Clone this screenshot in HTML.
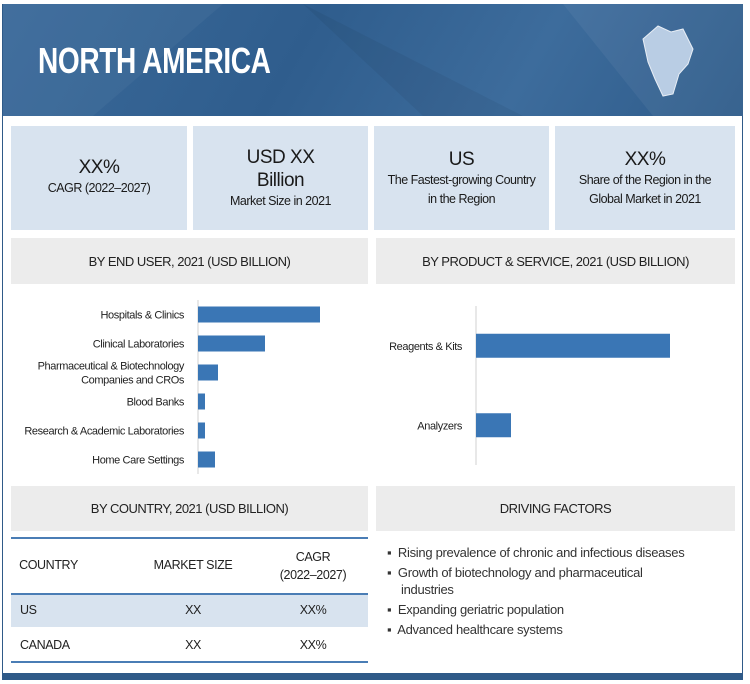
<!DOCTYPE html>
<html><head><meta charset="utf-8">
<style>
*{margin:0;padding:0;box-sizing:border-box}
body{width:750px;height:684px;background:#fff;font-family:"Liberation Sans",sans-serif;color:#222;position:relative;overflow:hidden}
.abs{position:absolute}
.frame{left:2px;top:4px;width:741px;height:676px;border:1.5px solid #2f5a88}
.header{left:3px;top:4px;width:740px;height:112px;background:linear-gradient(120deg,#3b6a9a 0%,#2f5d8d 40%,#3d6c9c 70%,#2e5b8a 100%)}
.title{left:38px;top:40px;font-size:36px;font-weight:bold;color:#fff;letter-spacing:-0.5px;transform:scaleX(0.78);transform-origin:left top;white-space:nowrap}
.stat{top:126px;height:104px;background:#d8e3ef;display:flex;flex-direction:column;justify-content:center;align-items:center;text-align:center;color:#1a1a1a;white-space:nowrap;letter-spacing:-0.5px}
.big{font-size:19px;line-height:23px}
.small{font-size:12.5px;line-height:19px}
.gh{background:#ececec;display:flex;align-items:center;justify-content:center;font-size:13px;color:#222;letter-spacing:-0.5px}
.th{font-size:12.5px;text-align:center;letter-spacing:-0.4px}
.bul{font-size:13px;color:#333;line-height:17px;letter-spacing:-0.3px}
</style></head><body>
<div class="abs frame"></div>
<div class="abs header">
<svg width="740" height="112" style="position:absolute;left:0;top:0">
<polygon points="0,0 220,0 90,112 0,112" fill="#fff" opacity="0.04"/>
<polygon points="300,0 520,112 420,112" fill="#000" opacity="0.05"/>
<polygon points="560,0 740,0 740,112 650,112" fill="#fff" opacity="0.05"/>
<path d="M640,35 L655,22 L668,28 L680,25 L690,45 L685,60 L676,70 L670,90 L660,92 L652,75 L645,58 Z" fill="#b9cde4" stroke="#e8eef6" stroke-width="1"/>
</svg></div>
<div class="abs title">NORTH AMERICA</div>

<div class="abs stat" style="left:11px;width:176px"><div class="big" style="margin-top:-2px">XX%</div><div class="small">CAGR (2022–2027)</div></div>
<div class="abs stat" style="left:193px;width:175px"><div class="big">USD XX</div><div class="big">Billion</div><div class="small">Market Size in 2021</div></div>
<div class="abs stat" style="left:374px;width:175px"><div class="big">US</div><div class="small">The Fastest-growing Country<br>in the Region</div></div>
<div class="abs stat" style="left:555px;width:180px"><div class="big">XX%</div><div class="small">Share of the Region in the<br>Global Market in 2021</div></div>

<div class="abs gh" style="left:11px;top:238px;width:357px;height:46px">BY END USER, 2021 (USD BILLION)</div>
<div class="abs gh" style="left:376px;top:238px;width:359px;height:46px">BY PRODUCT &amp; SERVICE, 2021 (USD BILLION)</div>

<svg class="abs" style="left:0;top:0" width="750" height="684" id="charts"></svg>

<div class="abs gh" style="left:11px;top:486px;width:357px;height:45px">BY COUNTRY, 2021 (USD BILLION)</div>
<div class="abs gh" style="left:376px;top:486px;width:359px;height:45px">DRIVING FACTORS</div>

<div class="abs" style="left:11px;top:537px;width:357px;height:2px;background:#4a7db5"></div>
<div class="abs th" style="left:11px;top:558px;width:75px">COUNTRY</div>
<div class="abs th" style="left:148px;top:558px;width:90px">MARKET SIZE</div>
<div class="abs th" style="left:268px;top:548px;width:90px;line-height:18px">CAGR<br>(2022–2027)</div>
<div class="abs" style="left:11px;top:593px;width:357px;height:2px;background:#4a7db5"></div>
<div class="abs" style="left:11px;top:595px;width:357px;height:32px;background:#d8e3ef"></div>
<div class="abs th" style="left:20px;top:603px;text-align:left">US</div>
<div class="abs th" style="left:148px;top:603px;width:90px">XX</div>
<div class="abs th" style="left:268px;top:603px;width:90px">XX%</div>
<div class="abs th" style="left:20px;top:638px;text-align:left">CANADA</div>
<div class="abs th" style="left:148px;top:638px;width:90px">XX</div>
<div class="abs th" style="left:268px;top:638px;width:90px">XX%</div>
<div class="abs" style="left:11px;top:661px;width:357px;height:2px;background:#4a7db5"></div>

<div class="abs bul" style="left:387px;top:544px;width:345px">
<div style="padding-left:14px;text-indent:-14px;margin-bottom:3px">▪&nbsp; Rising prevalence of chronic and infectious diseases</div>
<div style="padding-left:14px;text-indent:-14px;margin-bottom:3px">▪&nbsp; Growth of biotechnology and pharmaceutical<br>industries</div>
<div style="padding-left:14px;text-indent:-14px;margin-bottom:3px">▪&nbsp; Expanding geriatric population</div>
<div style="padding-left:14px;text-indent:-14px">▪&nbsp; Advanced healthcare systems</div>
</div>
<div class="abs" style="left:3px;top:673px;width:740px;height:7px;background:#2f5a88"></div>

<script>
const endUserCats=["Hospitals & Clinics","Clinical Laboratories","Pharmaceutical & Biotechnology|Companies and CROs","Blood Banks","Research & Academic Laboratories","Home Care Settings"];
const endUserVals=[122,67,20,7,7,17];
const productCats=["Reagents & Kits","Analyzers"];
const productVals=[194,35];
const NS="http://www.w3.org/2000/svg";
const svg=document.getElementById('charts');
function mk(t,a){const e=document.createElementNS(NS,t);for(const k in a)e.setAttribute(k,a[k]);svg.appendChild(e);return e;}
function chart(cats,vals,x0,y0,y1,bh,pxPerUnit,prefix){
  const band=(y1-y0)/cats.length;
  const ax=mk('line',{x1:x0,y1:y0,x2:x0,y2:y1,stroke:'#d0d0d0','stroke-width':1});
  
  
  cats.forEach((c,i)=>{
    const cy=y0+band*(i+0.5);
    const r=mk('rect',{x:x0,y:cy-bh/2,width:vals[i]*pxPerUnit,height:bh,fill:'#3a76b5'});
    
    
    const lines=c.split('|');
    lines.forEach((ln,j)=>{
      const t=mk('text',{x:x0-14,y:cy+4+(j-(lines.length-1)/2)*14,'text-anchor':'end','font-size':11,'letter-spacing':'-0.4','font-family':'"Liberation Sans",sans-serif',fill:'#222'});
      t.textContent=ln;
      
      
    });
  });
}
chart(endUserCats,endUserVals,198,300,474,16,1,'end-user');
chart(productCats,productVals,476,306,465,24,1,'product');
</script>
</body></html>
